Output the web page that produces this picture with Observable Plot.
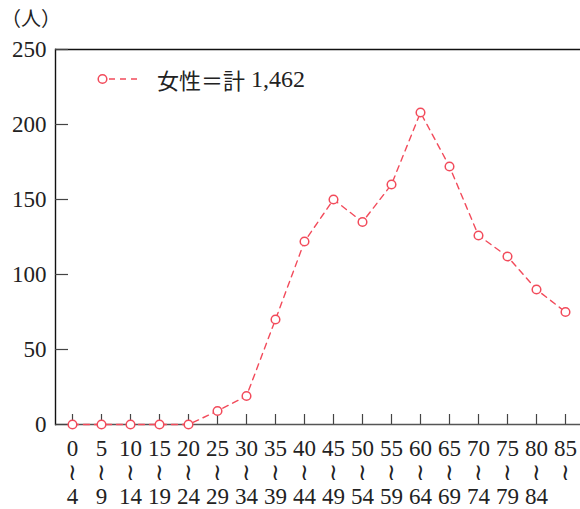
<!DOCTYPE html>
<html>
<head>
<meta charset="utf-8">
<script src="https://cdn.jsdelivr.net/npm/d3@7"></script>
<script src="https://cdn.jsdelivr.net/npm/@observablehq/plot@0.6"></script>
<style>
  body { margin: 0; background: #fff; }
  #wrap { position: relative; width: 580px; height: 509px; }
  #wrap svg, #wrap svg text { font-family: 'Liberation Serif', 'DejaVu Serif', serif !important; }
  #unit { position: absolute; left: 1px; top: 3px; font: 20px 'Noto Sans CJK JP', sans-serif; color: #222; }
  #legend { position: absolute; left: 96px; top: 63px; display: flex; align-items: center;
            font: 22px 'Liberation Serif', 'Noto Sans CJK JP', serif; color: #222; white-space: nowrap; }
  #legend svg { display: block; margin-right: 15px; }
  #legend .txt { white-space: pre; }
  #legend .num { font-size: 24px; margin-left: 6px; }
</style>
</head>
<body>
<div id="wrap">
  <div id="legend"></div>
  <div id="unit"></div>
</div>
<script>
// ---- data ----
const ageFrom = ["0","5","10","15","20","25","30","35","40","45","50","55","60","65","70","75","80","85"];
const ageTo   = ["4","9","14","19","24","29","34","39","44","49","54","59","64","69","74","79","84",""];
const women   = [0, 0, 0, 0, 0, 9, 19, 70, 122, 150, 135, 160, 208, 172, 126, 112, 90, 75];
const yTicks  = [0, 50, 100, 150, 200, 250];
const seriesLabel = "女性＝計 1,462";
const unitLabel = "（人）";

const ageLabels = ageFrom.map((a, i) => `${a}\n≀\n${ageTo[i]}`);
const rows = ageLabels.map((label, i) => ({label, value: women[i]}));

const lineColor = "#f24b5b";

const chart = Plot.plot({
  width: 580,
  height: 509,
  marginLeft: 55,
  marginRight: 0,
  marginTop: 49,
  marginBottom: 85,
  style: {fontFamily: "'Liberation Serif', 'DejaVu Serif', serif", fontSize: "23px", color: "#222", background: "white"},
  x: {type: "point", domain: ageLabels, padding: 0, insetLeft: 14, insetRight: 12, label: null},
  y: {domain: [0, 250], label: null},
  marks: [
    Plot.ruleY([250], {stroke: "#111", strokeWidth: 1.6}),
    Plot.ruleY([0], {stroke: "#555", strokeWidth: 1.6}),
    Plot.frame({anchor: "left", stroke: "#111", strokeWidth: 1.4}),
    // inward tick marks
    Plot.axisY({ticks: yTicks, tickSize: 13, dx: 13, tickFormat: () => "", stroke: "#444", strokeWidth: 1.2}),
    Plot.axisX({tickSize: 10, dy: -10, tickFormat: () => "", stroke: "#444", strokeWidth: 1.2}),
    // labels
    Plot.axisY({ticks: yTicks, tickSize: 0, tickPadding: 9, label: null}),
    Plot.axisX({tickSize: 0, tickPadding: 14, lineHeight: 1.05, label: null}),
    // series
    Plot.line(rows, {x: "label", y: "value", stroke: lineColor, strokeWidth: 1.4, strokeDasharray: "6,5"}),
    Plot.dot(rows, {x: "label", y: "value", r: 4.3, stroke: lineColor, strokeWidth: 1.5, fill: "white"})
  ]
});
document.getElementById("wrap").prepend(chart);

document.getElementById("unit").textContent = unitLabel;
const legend = document.getElementById("legend");
legend.innerHTML = `<svg width="46" height="24">
  <line x1="13" y1="12" x2="45" y2="12" stroke="${lineColor}" stroke-width="1.4" stroke-dasharray="6,5"/>
  <circle cx="6.5" cy="12" r="4.3" fill="white" stroke="${lineColor}" stroke-width="1.5"/>
</svg><span class="txt"></span><span class="num"></span>`;
const sp = seriesLabel.indexOf(" ");
legend.querySelector(".txt").textContent = seriesLabel.slice(0, sp);
legend.querySelector(".num").textContent = seriesLabel.slice(sp + 1);
</script>
</body>
</html>
